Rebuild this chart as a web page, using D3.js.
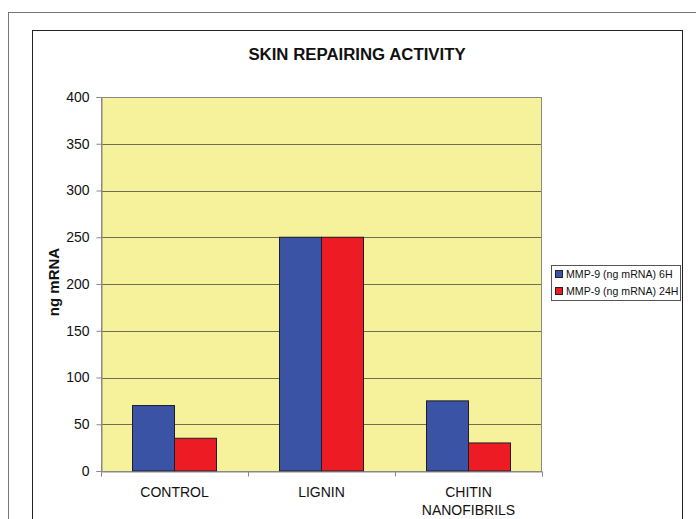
<!DOCTYPE html>
<html><head><meta charset="utf-8">
<script src="https://cdn.jsdelivr.net/npm/d3@7"></script>
<style>body{margin:0;background:#fff}svg{display:block;font-family:"Liberation Sans",Arial,sans-serif}</style>
</head><body>
<svg id="c" width="696" height="519"></svg>
<script>
const categories = [["CONTROL"], ["LIGNIN"], ["CHITIN", "NANOFIBRILS"]];
const seriesNames = ["MMP-9 (ng mRNA) 6H", "MMP-9 (ng mRNA) 24H"];
const values6H = [70, 250, 75];
const values24H = [35, 250, 30];
const yTicks = [0, 50, 100, 150, 200, 250, 300, 350, 400];
const colors = ["#3a53a4", "#ed1c24"];

const svg = d3.select("#c");
// outer and inner frames
svg.append("rect").attr("x", 8.5).attr("y", 12.5).attr("width", 700).attr("height", 520)
  .attr("fill", "#fff").attr("stroke", "#777").attr("stroke-width", 1);
svg.append("rect").attr("x", 32.5).attr("y", 30.5).attr("width", 650).attr("height", 500)
  .attr("fill", "#fff").attr("stroke", "#222").attr("stroke-width", 1);

const L = 101, R = 542, T = 97, B = 471;
const x = d3.scaleBand().domain(d3.range(categories.length)).range([L, R]).paddingInner(0).paddingOuter(0);
const y = d3.scaleLinear().domain([0, 400]).range([B, T]);
const bw = x.bandwidth() / 3.5;

svg.append("rect").attr("x", L).attr("y", T).attr("width", R - L).attr("height", B - T)
  .attr("fill", "#f6f29b");
// gridlines
svg.append("g").selectAll("line").data(yTicks.filter(d => d > 0)).join("line")
  .attr("x1", L).attr("x2", R).attr("y1", d => Math.round(y(d)) + 0.5).attr("y2", d => Math.round(y(d)) + 0.5)
  .attr("stroke", "#6e6e55").attr("stroke-width", 1);
svg.append("rect").attr("x", L + 0.5).attr("y", T + 0.5).attr("width", R - L - 1).attr("height", B - T)
  .attr("fill", "none").attr("stroke", "#8a8a8a");

// bars
const series = [values6H, values24H];
series.forEach((vals, si) => {
  svg.append("g").selectAll("rect").data(vals).join("rect")
    .attr("x", (d, i) => x(i) + bw * 0.75 + si * bw)
    .attr("y", d => y(d))
    .attr("width", bw)
    .attr("height", d => y(0) - y(d))
    .attr("fill", colors[si]).attr("stroke", "#1d1d2a").attr("stroke-width", 1);
});

// y axis
const yAxis = d3.axisLeft(y).tickValues(yTicks).tickSize(5).tickPadding(7);
const gy = svg.append("g").attr("transform", `translate(${L + 0.5},0)`).call(yAxis);
gy.select(".domain").attr("stroke", "#888");
gy.selectAll(".tick line").attr("stroke", "#888");
gy.selectAll(".tick text").attr("font-size", 14).attr("fill", "#111").attr("font-family", "Liberation Sans, Arial, sans-serif");

// x axis
const xb = d3.scaleLinear().domain([0, 3]).range([L, R]);
const gx = svg.append("g").attr("transform", `translate(0,${B + 0.5})`)
  .call(d3.axisBottom(xb).tickValues([0, 1, 2, 3]).tickSize(5).tickFormat(""));
gx.select(".domain").attr("stroke", "#888");
gx.selectAll(".tick line").attr("stroke", "#888");
categories.forEach((lines, i) => {
  const t = svg.append("text").attr("x", x(i) + x.bandwidth() / 2).attr("y", 497)
    .attr("text-anchor", "middle").attr("font-size", 14).attr("fill", "#111");
  lines.forEach((ln, j) => t.append("tspan").attr("x", x(i) + x.bandwidth() / 2).attr("dy", j ? 18 : 0).text(ln));
});

// title
svg.append("text").attr("x", 357).attr("y", 60).attr("text-anchor", "middle")
  .attr("font-size", 16.8).attr("font-weight", "bold").attr("fill", "#111").text("SKIN REPAIRING ACTIVITY");
// y label
svg.append("text").attr("transform", `translate(59,${282}) rotate(-90)`).attr("text-anchor", "middle")
  .attr("font-size", 15).attr("font-weight", "bold").attr("fill", "#111").text("ng mRNA");

// legend
const lg = svg.append("g");
lg.append("rect").attr("x", 551.5).attr("y", 265.5).attr("width", 129).attr("height", 35)
  .attr("fill", "#fff").attr("stroke", "#555");
seriesNames.forEach((n, i) => {
  lg.append("rect").attr("x", 555.5).attr("y", 270.5 + i * 17).attr("width", 7).attr("height", 7)
    .attr("fill", colors[i]).attr("stroke", "#222");
  lg.append("text").attr("x", 566).attr("y", 278 + i * 17).attr("font-size", 10.6).attr("fill", "#111").text(n);
});
</script>
</body></html>
